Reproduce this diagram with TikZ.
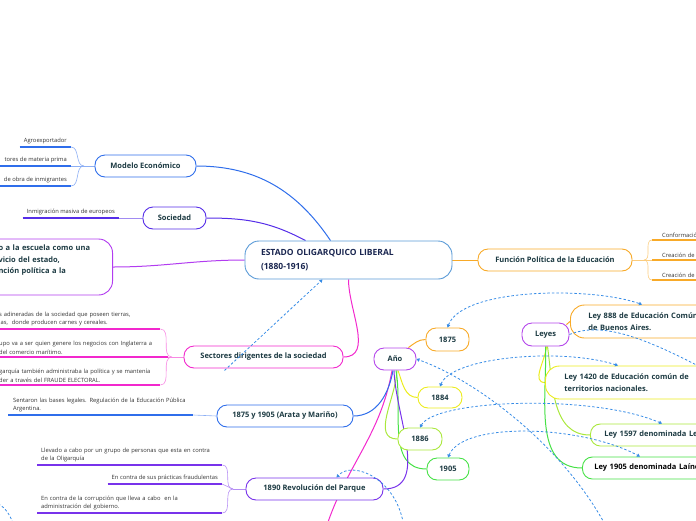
\documentclass[tikz,border=0pt]{standalone}
\usepackage{fontspec}
\setmainfont{Open Sans}
\usetikzlibrary{positioning,arrows.meta,calc}
\pgfdeclarelayer{background}
\pgfsetlayers{background,main}
\definecolor{nodetxt}{RGB}{28,58,66}
\definecolor{centraltxt}{RGB}{26,38,80}
\definecolor{leaftxt}{RGB}{50,50,50}
\definecolor{centralblue}{RGB}{90,155,215}
\definecolor{ecoblue}{RGB}{47,110,235}
\definecolor{socviolet}{RGB}{85,45,232}
\definecolor{escpurple}{RGB}{178,60,240}
\definecolor{secmagenta}{RGB}{242,40,205}
\definecolor{revpurple}{RGB}{120,50,235}
\definecolor{funcorange}{RGB}{248,170,40}
\definecolor{anopurple}{RGB}{180,70,235}
\definecolor{yryellow}{RGB}{236,236,30}
\definecolor{yrlime}{RGB}{170,232,60}
\definecolor{yrgreen}{RGB}{70,225,70}
\definecolor{relblue}{RGB}{55,140,230}

\begin{document}
\begin{tikzpicture}[x=1pt, y=-1pt,
  every node/.style={font=\fontsize{7.5}{11.5}\selectfont\bfseries, text=nodetxt},
  topic/.style={draw, fill=white, line width=0.9pt, rounded corners=10pt,
    inner sep=0pt, minimum height=22pt, align=center},
  leaf/.style={font=\fontsize{5.8}{8.5}\selectfont, text=leaftxt,
    align=left, inner xsep=4pt, inner ysep=2.5pt},
  uline/.style={line width=1.5pt},
  conn/.style={line width=1pt},
  twig/.style={line width=0.6pt},
  rel/.style={draw=relblue, line width=0.8pt, dash pattern=on 2.5pt off 2pt},
  relboth/.style={rel, {Triangle[width=3.5pt,length=3pt]}-{Triangle[width=3.5pt,length=3pt]}},
  relto/.style={rel, -{Triangle[width=3.5pt,length=3pt]}},
]
\useasboundingbox (0,0) rectangle (696,520);

% ── CENTRE
\node[topic, draw=centralblue, rounded corners=14pt, minimum width=207pt, minimum height=38pt,
  text width=175pt, align=left, font=\fontsize{8.5}{14}\selectfont\bfseries, text=centraltxt]
  at (348.5,260) (central) {ESTADO OLIGARQUICO LIBERAL\\(1880-1916)};

% ── LEFT branches
\node[topic, draw=ecoblue, minimum width=101pt]    at (145.5,166) (modelo)   {Modelo Económico};
\node[topic, draw=socviolet, minimum width=63pt]   at (174.5,218) (sociedad) {Sociedad};
\node[topic, draw=escpurple, rounded corners=14pt, minimum height=56pt,
  text width=95pt, align=left, inner xsep=19pt, anchor=east]
  at (113,267) (escuela) {o a la escuela como una\\vicio del estado,\\nción política a la\\\strut};
\node[topic, draw=secmagenta, minimum width=159pt] at (263.5,357) (sectores) {Sectores dirigentes de la sociedad};
\node[topic, draw=ecoblue, minimum width=136pt]    at (285,416)   (arata)    {1875 y 1905 (Arata y Mariño)};
\node[topic, draw=revpurple, minimum width=137pt]  at (314.5,489) (revol)    {1890 Revolución del Parque};

% ── RIGHT branch
\node[topic, draw=funcorange, minimum width=154pt] at (555,260) (funcion) {Función Política de la Educación};

% ── Año + years
\node[topic, draw=anopurple, minimum width=42pt] at (395,359)     (ano)   {Año};
\node[topic, draw=funcorange, minimum width=43pt, minimum height=23pt] at (447.5,339.5) (y1875) {1875};
\node[topic, draw=yryellow, minimum width=44pt, minimum height=21pt]   at (440,397.5)   (y1884) {1884};
\node[topic, draw=yrlime, minimum width=44pt]    at (420,439)     (y1886) {1886};
\node[topic, draw=yrgreen, minimum width=42pt]   at (448,469)     (y1905) {1905};

% ── Leyes + laws
\node[topic, draw=anopurple, minimum width=47pt, minimum height=23pt] at (545.5,334.5) (leyes) {Leyes};
\node[topic, draw=funcorange, rounded corners=14pt, minimum height=33pt, text width=140pt,
  align=left, inner xsep=18pt, anchor=west] at (570,321.5) (ley888) {Ley 888 de Educación Común\\de Buenos Aires.};
\node[topic, draw=yryellow, rounded corners=14pt, minimum height=33pt, text width=140pt,
  align=left, inner xsep=19pt, anchor=west] at (545,382.5) (ley1420) {Ley 1420 de Educación común de\\territorios nacionales.};
\node[topic, draw=yrlime, text width=200pt, align=left, inner xsep=14pt, anchor=west]
  at (590,435) (ley1597) {Ley 1597 denominada Ley Avellaneda};
\node[topic, draw=yrgreen, text width=200pt, align=left, inner xsep=12pt, anchor=west, text=black]
  at (582,468) (ley1905) {Ley 1905 denominada Laínez};

% ── LEAVES
\node[leaf, anchor=south east] at (71,147) (mA) {Agroexportador};
\node[leaf, anchor=south east] at (71,166) (mB) {tores de materia prima};
\node[leaf, anchor=south east] at (71,186) (mC) {de obra de inmigrantes};
\node[leaf, anchor=south east] at (119,218) (sA) {Inmigración masiva de europeos};
\node[leaf, anchor=south west, inner xsep=9pt, text width=152pt] at (-10,329) (dA)
  {s adineradas de la sociedad que poseen tierras,\\ias,\ \ donde producen carnes y cereales.};
\node[leaf, anchor=south west, inner xsep=9pt, text width=160pt] at (-10,357) (dB)
  {upo va a ser quien genere los negocios con Inglaterra a\\del comercio marítimo.};
\node[leaf, anchor=south west, inner xsep=9pt, text width=152pt] at (-10,385) (dC)
  {garquía también administraba la política y se mantenía\\der a través del FRAUDE ELECTORAL.};
\node[leaf, anchor=south west, inner xsep=5pt, text width=175pt] at (8,415) (aA)
  {Sentaron las bases legales. Regulación de la Educación Pública\\Argentina.};
\node[leaf, anchor=south west, text width=177pt] at (37,465) (rA)
  {Llevado a cabo por un grupo de personas que esta en contra\\de la Oligarquía};
\node[leaf, anchor=south east] at (222,484) (rB) {En contra de sus prácticas fraudulentas};
\node[leaf, anchor=south west, text width=177pt] at (37,513) (rC)
  {En contra de la corrupción que lleva a cabo\ \ en la\\administración del gobierno.};
\node[leaf, anchor=south west, inner xsep=10pt, text width=40pt] at (652,240) (fA) {Conformación};
\node[leaf, anchor=south west, inner xsep=10pt, text width=40pt] at (652,260) (fB) {Creación de};
\node[leaf, anchor=south west, inner xsep=10pt, text width=40pt] at (652,280) (fC) {Creación de};

\coordinate (mbr) at (84,166);
\coordinate (dbr) at (172,357);
\coordinate (rbr) at (233,489);
\coordinate (fbr) at (644,260);
\coordinate (anoparent) at (326,528);
\coordinate (farA) at (607,528);
\coordinate (farL) at (706,370);
\coordinate (farR) at (404,528);
\coordinate (lfa) at (-6,502);
\coordinate (lfb) at (14,526);

%% ══════════════════ CONNECTORS ══════════════════
\begin{pgfonlayer}{background}

% central → branches
\draw[conn, ecoblue]    (modelo.east)   to[out=0, in=124] ($(central.north)+(-18,0)$);
\draw[conn, socviolet]  (sociedad.east) to[out=0, in=152] ($(central.north)+(-43,0)$);
\draw[conn, escpurple]  (escuela.east)  to[out=0, in=180] (central.west);
\draw[conn, secmagenta] (central.south) to[out=-90, in=0] (sectores.east);
\draw[conn, funcorange] (central.east)  -- (funcion.west);

% Modelo → leaves
\draw[uline, ecoblue] (mA.south west) -- (mA.south east);
\draw[uline, ecoblue] (mB.south west) -- (mB.south east);
\draw[uline, ecoblue] (mC.south west) -- (mC.south east);
\draw[twig, ecoblue!55] (modelo.west) -- (mbr);
\draw[twig, ecoblue!55] (mbr) to[out=180, in=0] (mA.south east);
\draw[twig, ecoblue!55] (mbr) -- (mB.south east);
\draw[twig, ecoblue!55] (mbr) to[out=180, in=0] (mC.south east);

% Sociedad → leaf
\draw[uline, socviolet] (sA.south west) -- (sA.south east);
\draw[twig, socviolet!55] (sociedad.west) -- (sA.south east);

% Sectores → leaves
\draw[uline, secmagenta] (dA.south west) -- (dA.south east);
\draw[uline, secmagenta] (dB.south west) -- (dB.south east);
\draw[uline, secmagenta] (dC.south west) -- (dC.south east);
\draw[twig, secmagenta!55] (sectores.west) -- (dbr);
\draw[twig, secmagenta!55] (dbr) to[out=180, in=0] (dA.south east);
\draw[twig, secmagenta!55] (dbr) -- (dB.south east);
\draw[twig, secmagenta!55] (dbr) to[out=180, in=0] (dC.south east);

% Arata → leaf
\draw[uline, ecoblue] (aA.south west) -- (aA.south east);
\draw[twig, ecoblue!55] (arata.west) -- (aA.south east);

% Revolución → leaves
\draw[uline, revpurple] (rA.south west) -- (rA.south east);
\draw[uline, revpurple] (rB.south west) -- (rB.south east);
\draw[uline, revpurple] (rC.south west) -- (rC.south east);
\draw[twig, revpurple!55] (revol.west) -- (rbr);
\draw[twig, revpurple!55] (rbr) to[out=180, in=0] (rA.south east);
\draw[twig, revpurple!55] (rbr) -- (rB.south east);
\draw[twig, revpurple!55] (rbr) to[out=180, in=0] (rC.south east);

% Función → leaves
\draw[uline, funcorange] (fA.south west) -- (fA.south east);
\draw[uline, funcorange] (fB.south west) -- (fB.south east);
\draw[uline, funcorange] (fC.south west) -- (fC.south east);
\draw[twig, funcorange!60] (funcion.east) -- (fbr);
\draw[twig, funcorange!60] (fbr) to[out=0, in=180] (fA.south west);
\draw[twig, funcorange!60] (fbr) -- (fB.south west);
\draw[twig, funcorange!60] (fbr) to[out=0, in=180] (fC.south west);

% Año → children
\draw[conn, secmagenta] ($(ano.south)+(-3,0)$) to[out=-100, in=72] (anoparent);
\draw[conn, funcorange] ($(ano.north east)+(-8,0)$) to[out=35, in=180] (y1875.west);
\draw[conn, yryellow]   ($(ano.south)+(3,0)$) to[out=-70, in=180] (y1884.west);
\draw[conn, yrlime]     ($(ano.south)+(2,0)$) to[out=-92, in=180] (y1886.west);
\draw[conn, yrgreen]    ($(ano.south)+(1,0)$) to[out=-80, in=180] (y1905.west);
\draw[conn, ecoblue]    ($(ano.south)+(-2,0)$) to[out=-100, in=0] (arata.east);
\draw[conn, revpurple]  ($(ano.south)+(-1,0)$) to[out=-88, in=0] (revol.east);

% Leyes → laws
\draw[conn, funcorange] ($(leyes.north east)+(-3,2)$) -- (ley888.west);
\draw[conn, yryellow]   ($(leyes.south)+(1,0)$) to[out=-95, in=180] (ley1420.west);
\draw[conn, yrlime]     ($(leyes.south)+(2,0)$) to[out=-82, in=180] (ley1597.west);
\draw[conn, yrgreen]    ($(leyes.south)+(0,0)$) to[out=-88, in=180] (ley1905.west);

\end{pgfonlayer}

% ── relations (dashed)
\draw[relto] ($(sectores.south)+(-39,2)$) -- ($(central.south)+(-26,0)$);
\draw[relboth] (y1875.north) .. controls +(15,-40) and +(-50,-18) .. ($(ley888.north west)+(72,0)$);
\draw[relboth] (y1884.north) .. controls +(12,-30) and +(-55,-18) .. ($(ley1420.north west)+(73,0)$);
\draw[relboth] (y1886.north) .. controls +(15,-28) and +(-70,-30) .. ($(ley1597.north west)+(72,0)$);
\draw[relboth] (y1905.north) .. controls +(15,-36) and +(-60,-32) .. ($(ley1905.north west)+(58,0)$);
\draw[relto] (farA) .. controls (560,440) and (470,378) .. (ano.east);
\draw[rel] (leyes.east) .. controls (600,322) and (640,335) .. (farL);
\draw[relto] (farR) .. controls (398,478) and (352,460) .. ($(revol.north)+(22,0)$);
\draw[rel] (lfa) .. controls (4,505) and (10,514) .. (lfb);

\end{tikzpicture}
\end{document}
